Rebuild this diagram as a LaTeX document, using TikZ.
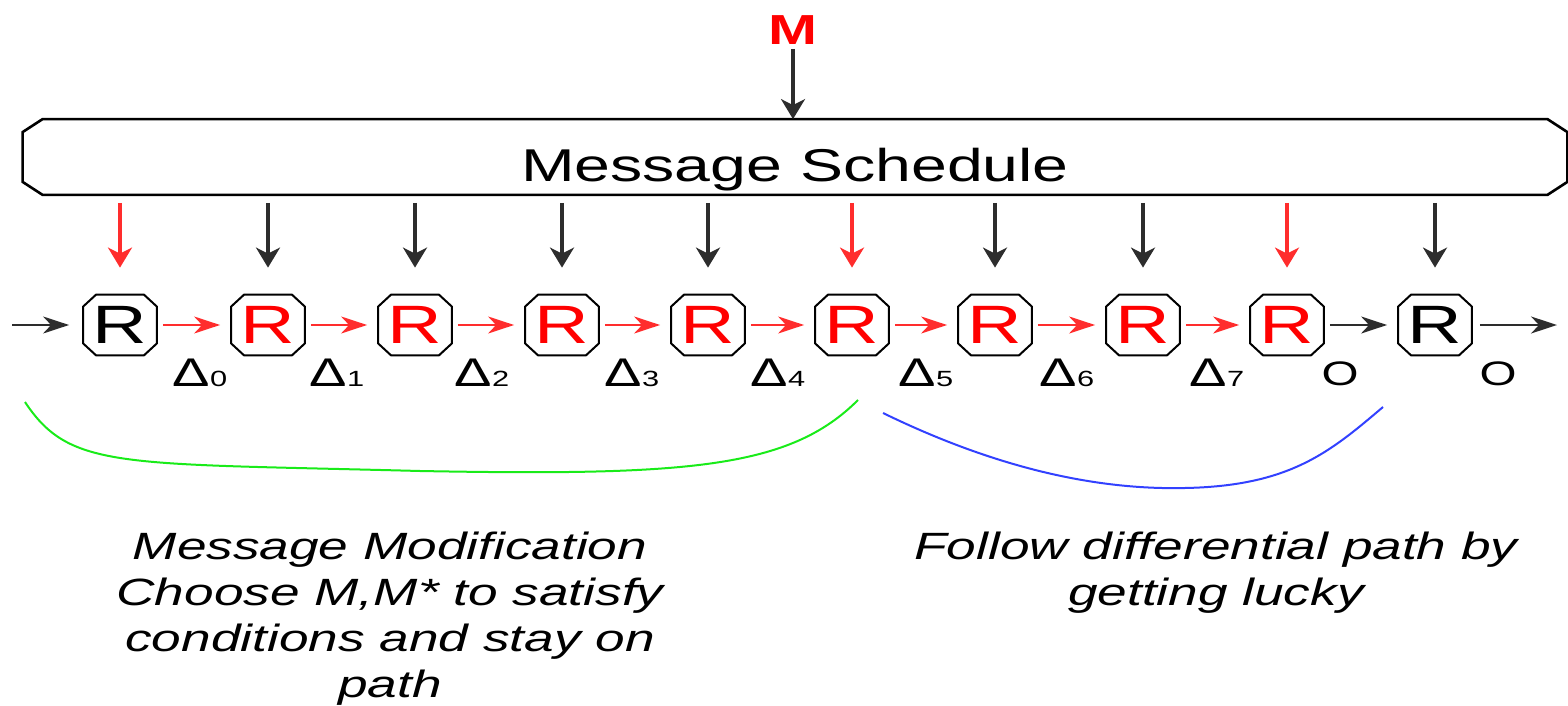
\documentclass[tikz,border=0pt]{standalone}
\usepackage{fontspec}
\setmainfont{Liberation Sans}[FakeStretch=1.4]
\usetikzlibrary{arrows.meta,calc}

\definecolor{arrowred}{RGB}{255,45,45}
\definecolor{curvegreen}{RGB}{25,235,25}
\definecolor{curveblue}{RGB}{50,65,255}
\definecolor{shaft}{RGB}{45,45,45}

% octagonal outline drawn round a named node: node, chamfer x, chamfer y, line width
\newcommand\chamferframe[4]{%
  \draw[line width=#4, line join=miter]
    ([xshift=#2]#1.north west) -- ([xshift=-#2]#1.north east)
    -- ([yshift=-#3]#1.north east) -- ([yshift=#3]#1.south east)
    -- ([xshift=-#2]#1.south east) -- ([xshift=#2]#1.south west)
    -- ([yshift=#3]#1.south west) -- ([yshift=-#3]#1.north west) -- cycle;}

% delta label with a small index
\newcommand\deltalab[1]{{\fontsize{20}{20}\selectfont Δ}{\fontsize{11}{11}\selectfont #1}}

\tikzset{
  schedbox/.style={minimum width=772pt, minimum height=37.5pt, inner sep=0pt,
    text height=24.5pt, text depth=0pt, font=\fontsize{23}{23}\selectfont},
  roundbox/.style={minimum width=36.5pt, minimum height=30pt, inner sep=0pt,
    font=\fontsize{27}{27}\selectfont},
  topmsg/.style={text=red, inner sep=0pt, font=\fontsize{21}{21}\selectfont\bfseries},
  steplab/.style={inner sep=0pt},
  outlab/.style={inner sep=0pt, font=\fontsize{17}{17}\selectfont},
  note/.style={align=center, inner sep=0pt, font=\fontsize{19}{23}\selectfont\itshape},
  harrow/.style={line width=1pt, -{Stealth[length=13pt,width=8.5pt,inset=4pt]}},
  varrow/.style={line width=1.6pt, -{Stealth[length=10pt,width=12pt,inset=3pt]}},
  brace/.style={line width=1pt}
}

\begin{document}
\begin{tikzpicture}[x=0.5pt, y=-0.5pt]
  \useasboundingbox (0,0) rectangle (1568,706);

  % message input and schedule
  \node[topmsg] (msg) at (793,30) {M};
  \node[schedbox] (sched) at (795,157) {Message Schedule};
  \chamferframe{sched}{10pt}{6.5pt}{1.3pt}
  \draw[varrow, shaft, shorten <=2pt] (msg.south) -- (msg.south |- sched.north);

  % round function boxes
  \foreach \i/\x/\c in {1/120/black, 2/268/red, 3/415/red, 4/562/red, 5/708/red,
                        6/852/red, 7/995/red, 8/1143/red, 9/1287/red, 10/1435/black}{
    \node[roundbox, text=\c] (r\i) at (\x,325) {R};
    \chamferframe{r\i}{6.5pt}{6pt}{1pt}
  }

  % schedule words feeding each round
  \foreach \i/\c in {1/arrowred, 2/shaft, 3/shaft, 4/shaft, 5/shaft,
                     6/arrowred, 7/shaft, 8/shaft, 9/arrowred, 10/shaft}{
    \draw[varrow, \c, shorten <=4pt, shorten >=13.5pt] (sched.south -| r\i) -- (r\i.north);
  }

  % chaining values between rounds
  \coordinate (src) at (12,325);
  \coordinate (sink) at (1557,325);
  \draw[harrow, shaft, shorten >=7pt] (src) -- (r1);
  \foreach \a/\b in {1/2, 2/3, 3/4, 4/5, 5/6, 6/7, 7/8, 8/9}{
    \draw[harrow, arrowred, shorten <=3pt, shorten >=5.5pt] (r\a) -- (r\b);
  }
  \draw[harrow, shaft, shorten <=3pt, shorten >=5.5pt] (r9) -- (r10);
  \draw[harrow, shaft, shorten <=4pt] (r10) -- (sink);

  % differences after each round
  \node[steplab] (d0) at (200,373) {\deltalab{0}};
  \node[steplab] (d1) at (337,373) {\deltalab{1}};
  \node[steplab] (d2) at (482,373) {\deltalab{2}};
  \node[steplab] (d3) at (632,373) {\deltalab{3}};
  \node[steplab] (d4) at (778,373) {\deltalab{4}};
  \node[steplab] (d5) at (926,373) {\deltalab{5}};
  \node[steplab] (d6) at (1067,373) {\deltalab{6}};
  \node[steplab] (d7) at (1217,373) {\deltalab{7}};
  \node[outlab] (o1) at (1340,374) {O};
  \node[outlab] (o2) at (1498,374) {O};

  % grouping curves
  \draw[brace, curvegreen] (25,402) .. controls (70,470) and (120,463) .. (420,471)
        .. controls (690,476) and (790,468) .. (858,400);
  \draw[brace, curveblue] (883,413) .. controls (1000,470) and (1100,490) .. (1185,488)
        .. controls (1290,486) and (1330,452) .. (1383,407);

  % explanations
  \node[note] (mod) at (390,619) {Message Modification\\Choose M,M* to satisfy\\conditions and stay on\\path};
  \node[note] (luck) at (1216,573) {Follow differential path by\\getting lucky};
\end{tikzpicture}
\end{document}
